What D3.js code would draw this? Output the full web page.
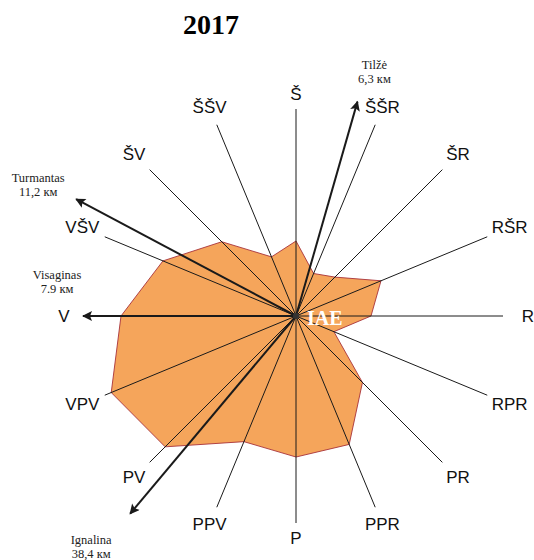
<!DOCTYPE html>
<html>
<head>
<meta charset="utf-8">
<script src="https://cdn.jsdelivr.net/npm/d3@7"></script>
<style>
  body { margin: 0; background: #fff; }
  .dirLabel { font-family: "Liberation Sans", Arial, sans-serif; font-size: 17px; fill: #111; }
  .townLabel { font-family: "Liberation Serif", "Times New Roman", serif; font-size: 12.5px; fill: #222; }
</style>
</head>
<body>
<div id="chart"></div>
<script>
// wind directions, clockwise from north (Š)
var directions = ["Š", "ŠŠR", "ŠR", "RŠR", "R", "RPR", "PR", "PPR", "P", "PPV", "PV", "VPV", "V", "VŠV", "ŠV", "ŠŠV"];
// relative wind frequency per direction
var frequency = [3.75, 2.3, 2.75, 4.6, 3.75, 2.05, 4.7, 6.95, 7.05, 6.8, 9.25, 10.0, 8.75, 7.2, 5.25, 3.2];

// nearby towns shown as arrows
var towns = ["Tilžė", "Turmantas", "Visaginas", "Ignalina"];
var townDistance = ["6,3 км", "11,2 км", "7.9 км", "38,4 км"];
var townBearing = [16, 298, 270, 220];      // degrees from north
var townArrowLen = [11.15, 12.45, 10.65, 12.9]; // in frequency-scale units

var title = "2017";
var plantName = "IAE";

var W = 534, H = 560;
var cx = 296, cy = 316;

var svg = d3.select("#chart").append("svg")
    .attr("width", W)
    .attr("height", H);

svg.append("text")
    .attr("x", 211).attr("y", 34)
    .attr("text-anchor", "middle")
    .style("font-family", "'Liberation Serif', 'Times New Roman', serif")
    .style("font-weight", "bold")
    .style("font-size", "28px")
    .text(title);

var r = d3.scaleLinear().domain([0, 10]).range([0, 200]);
var angle = d3.scaleLinear().domain([0, directions.length]).range([0, 2 * Math.PI]);

var g = svg.append("g")
    .attr("transform", "translate(" + cx + "," + cy + ")");

// the rose polygon
var radial = d3.lineRadial()
    .angle(function(d, i) { return angle(i); })
    .radius(function(d) { return r(d); })
    .curve(d3.curveLinearClosed);

g.append("path")
    .datum(frequency)
    .attr("d", radial)
    .attr("fill", "#f5a55b")
    .attr("stroke", "#a8323a")
    .attr("stroke-width", 0.9);

function pt(a, rad) { // a in radians clockwise from north
    return [rad * Math.sin(a), -rad * Math.cos(a)];
}

var spokeR = r(10.35);
// labels a bit further out sideways, since the text is wider than tall
function labelR(i) { return 222 + 10 * Math.abs(Math.sin(angle(i))); }

// direction spokes
g.selectAll(".spoke")
    .data(directions)
    .enter().append("line")
    .attr("class", "spoke")
    .attr("x1", 0).attr("y1", 0)
    .attr("x2", function(d, i) { return pt(angle(i), spokeR)[0]; })
    .attr("y2", function(d, i) { return pt(angle(i), spokeR)[1]; })
    .attr("stroke", "#1a1a1a")
    .attr("stroke-width", 1);

g.selectAll(".dirLabel")
    .data(directions)
    .enter().append("text")
    .attr("class", "dirLabel")
    .attr("x", function(d, i) { return pt(angle(i), labelR(i))[0]; })
    .attr("y", function(d, i) { return pt(angle(i), labelR(i))[1]; })
    .attr("text-anchor", "middle")
    .attr("dominant-baseline", "central")
    .text(function(d) { return d; });

// arrows to towns
svg.append("defs").append("marker")
    .attr("id", "arrow")
    .attr("viewBox", "0 0 10 10")
    .attr("refX", 9).attr("refY", 5)
    .attr("markerWidth", 6).attr("markerHeight", 5)
    .attr("markerUnits", "strokeWidth")
    .attr("orient", "auto")
  .append("path")
    .attr("d", "M0,0 L10,5 L0,10 L2,5 Z")
    .attr("fill", "#1a1a1a");

var toRad = Math.PI / 180;
g.selectAll(".townArrow")
    .data(towns)
    .enter().append("line")
    .attr("class", "townArrow")
    .attr("x1", 0).attr("y1", 0)
    .attr("x2", function(d, i) { return pt(townBearing[i] * toRad, r(townArrowLen[i]))[0]; })
    .attr("y2", function(d, i) { return pt(townBearing[i] * toRad, r(townArrowLen[i]))[1]; })
    .attr("stroke", "#1a1a1a")
    .attr("stroke-width", 2)
    .attr("marker-end", "url(#arrow)");

// where each town label sits relative to its arrow tip
var townLabelOffset = [[17, -37], [-38, -21], [-26, -41], [-39, 26]];
towns.forEach(function(t, i) {
    var tip = pt(townBearing[i] * toRad, r(townArrowLen[i]));
    var lbl = g.append("text")
        .attr("class", "townLabel")
        .attr("text-anchor", "middle")
        .attr("dominant-baseline", "central");
    lbl.append("tspan")
        .attr("x", tip[0] + townLabelOffset[i][0])
        .attr("y", tip[1] + townLabelOffset[i][1])
        .text(t);
    lbl.append("tspan")
        .attr("x", tip[0] + townLabelOffset[i][0])
        .attr("y", tip[1] + townLabelOffset[i][1] + 14)
        .text(townDistance[i]);
});

// plant at the centre
g.append("circle").attr("r", 3).attr("fill", "#333");
g.append("text")
    .attr("x", 11).attr("y", 9)
    .style("font-family", "'Liberation Serif', 'Times New Roman', serif")
    .style("font-weight", "bold")
    .style("font-size", "20px")
    .attr("fill", "#fff")
    .text(plantName);
</script>
</body>
</html>
